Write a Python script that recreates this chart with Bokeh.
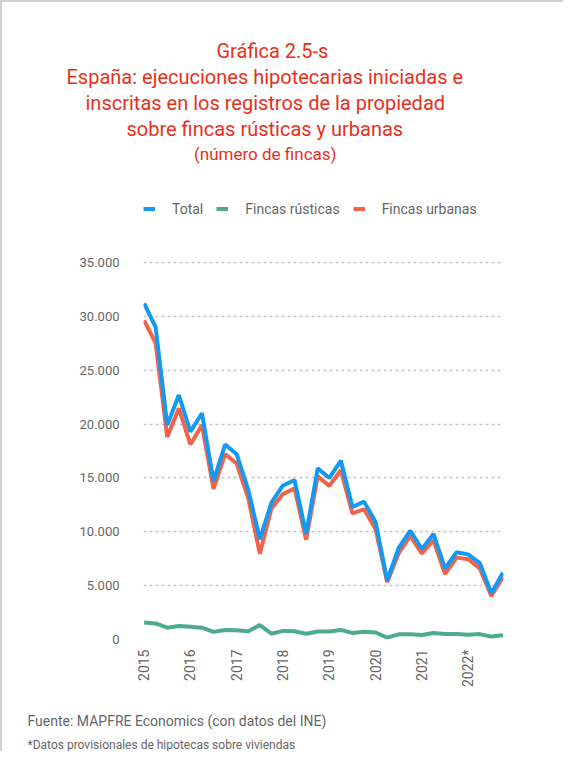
import math
from bokeh.plotting import figure
from bokeh.layouts import column
from bokeh.models import (ColumnDataSource, Range1d, FixedTicker, CustomJSTickFormatter,
                          Legend, LegendItem, Title)
from bokeh.embed import file_html
from bokeh.resources import INLINE

# ---------------- data ----------------
quarters = [f"{y}T{q}" for y in range(2015, 2023) for q in range(1, 5)]
total = [31200, 29000, 19900, 22700, 19300, 21000, 14700, 18100,
         17200, 13900, 9300, 12700, 14300, 14800, 9800, 15900,
         15000, 16600, 12300, 12800, 10900, 5500, 8500, 10100,
         8400, 9800, 6600, 8100, 7900, 7100, 4300, 6200]
rusticas = [1580, 1490, 1100, 1250, 1190, 1100, 710, 890,
            860, 770, 1340, 540, 800, 770, 540, 740,
            740, 890, 600, 710, 650, 180, 480, 480,
            420, 600, 500, 500, 450, 500, 270, 390]
urbanas = [29620, 27510, 18800, 21450, 18110, 19900, 13990, 17210,
           16340, 13130, 7960, 12160, 13500, 14030, 9260, 15160,
           14260, 15710, 11700, 12090, 10250, 5320, 8020, 9620,
           7980, 9200, 6100, 7600, 7450, 6600, 4030, 5810]
year_ticks = [0, 4, 8, 12, 16, 20, 24, 28]
year_labels = ["2015", "2016", "2017", "2018", "2019", "2020", "2021", "2022*"]
y_ticks = [0, 5000, 10000, 15000, 20000, 25000, 30000, 35000]

title_lines = ["Gráfica 2.5-s",
               "España: ejecuciones hipotecarias iniciadas e",
               "inscritas en los registros de la propiedad",
               "sobre fincas rústicas y urbanas"]
subtitle = "(número de fincas)"
source_note = "Fuente: MAPFRE Economics (con datos del INE)"
foot_note = "*Datos provisionales de hipotecas sobre viviendas"

FONT = "Roboto"
RED = "#e8301c"
GRAY = "#666666"
BLUE = "#1499f2"
GREEN = "#4eaa90"
ORANGE = "#f0644b"

src = ColumnDataSource(dict(x=list(range(len(quarters))), q=quarters,
                            total=total, rusticas=rusticas, urbanas=urbanas))

p = figure(width=561, height=715, x_range=Range1d(-0.05, 31.05),
           y_range=Range1d(0, 44098), output_backend="svg",
           toolbar_location=None, min_border_left=141, min_border_right=60,
           min_border_top=0, min_border_bottom=0, margin=(34, 0, 0, 0))
p.outline_line_color = None

r_rus = p.line("x", "rusticas", source=src, line_color=GREEN, line_width=4)
r_urb = p.line("x", "urbanas", source=src, line_color=ORANGE, line_width=4)
r_tot = p.line("x", "total", source=src, line_color=BLUE, line_width=4)

p.xgrid.visible = False
p.ygrid.ticker = FixedTicker(ticks=y_ticks)
p.ygrid.grid_line_color = "#c4c4c4"
p.ygrid.grid_line_dash = "3 3"
p.ygrid.grid_line_width = 1.5

p.yaxis.ticker = FixedTicker(ticks=y_ticks)
p.yaxis.formatter = CustomJSTickFormatter(code="""
    return Math.round(tick).toString().replace(/\\B(?=(\\d{3})+(?!\\d))/g, '.');
""")
p.yaxis.axis_line_color = None
p.yaxis.major_tick_line_color = None
p.yaxis.minor_tick_line_color = None
p.yaxis.major_tick_out = 0
p.yaxis.major_label_standoff = 24
p.yaxis.major_label_text_font = FONT
p.yaxis.major_label_text_font_size = "13px"
p.yaxis.major_label_text_color = GRAY

p.xaxis.ticker = FixedTicker(ticks=year_ticks)
p.xaxis.major_label_overrides = {t: l for t, l in zip(year_ticks, year_labels)}
p.xaxis.major_label_orientation = math.pi / 2
p.xaxis.axis_line_color = None
p.xaxis.major_tick_line_color = None
p.xaxis.minor_tick_line_color = None
p.xaxis.major_tick_out = 0
p.xaxis.major_label_standoff = 10
p.xaxis.major_label_text_font = FONT
p.xaxis.major_label_text_font_size = "14px"
p.xaxis.major_label_text_color = GRAY

# legend inside the (extended) frame, above the 35.000 gridline
legend = Legend(items=[LegendItem(label="Total", renderers=[r_tot]),
                       LegendItem(label="Fincas rústicas", renderers=[r_rus]),
                       LegendItem(label="Fincas urbanas", renderers=[r_urb])],
                orientation="horizontal", location=(0, 422),
                glyph_width=12, glyph_height=17, label_standoff=17, spacing=13,
                padding=0, margin=0, border_line_color=None,
                background_fill_alpha=0, label_text_font=FONT,
                label_text_font_size="14px", label_text_color=GRAY)
p.add_layout(legend)

# titles, stacked outward from the frame
p.add_layout(Title(text=subtitle, align="left", offset=50.5, standoff=2,
                   text_color=RED, text_font=FONT, text_font_size="17px",
                   text_font_style="normal"), "above")
offsets = [73, -77, -58, -17]
for line, off in reversed(list(zip(title_lines, offsets))):
    p.add_layout(Title(text=line, align="left", offset=off, standoff=0,
                       text_color=RED, text_font=FONT, text_font_size="20px",
                       text_font_style="normal"), "above")

# footer (an empty title keeps the gap under the year labels)
p.add_layout(Title(text="\u00a0", align="left", standoff=2,
                   text_font_size="8px"), "below")
p.add_layout(Title(text=source_note, align="left", offset=-116, standoff=14,
                   text_color=GRAY, text_font=FONT, text_font_size="14px",
                   text_font_style="normal"), "below")
p.add_layout(Title(text=foot_note, align="left", offset=-116, standoff=0,
                   text_color=GRAY, text_font=FONT, text_font_size="12px",
                   text_font_style="normal"), "below")

layout = column(p, styles={"border-top": "2px solid #d0d0d0",
                           "border-left": "2px solid #d0d0d0"})

open("out.html", "w").write(file_html(layout, INLINE))
